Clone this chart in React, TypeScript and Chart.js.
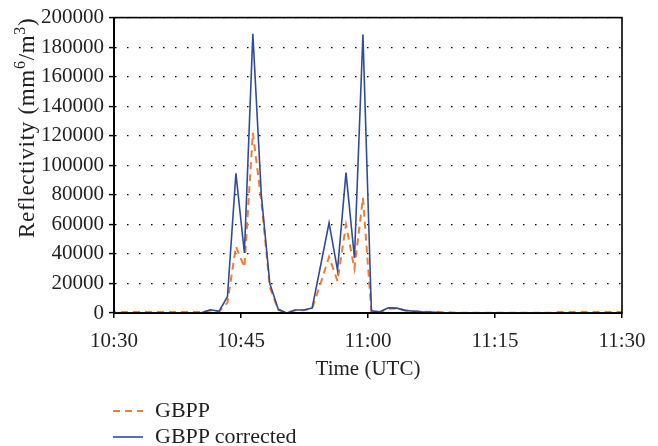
import React, { useEffect, useRef } from "react";
import { Chart, registerables } from "chart.js";

Chart.register(...registerables);

// Sample times, minutes after 10:30 UTC
const times = [
  -0.6, 0.4, 1.4, 2.4, 3.4, 4.4, 5.4, 6.4, 7.4, 8.4, 9.4, 10.4, 11.4, 12.4, 13.4, 14.4,
  15.4, 16.4, 17.4, 18.4, 19.4, 20.4, 21.4, 22.4, 23.4, 24.4, 25.4, 26.4, 27.4, 28.4,
  29.4, 30.4, 31.4, 32.4, 33.4, 34.4, 35.4, 36.4, 37.4, 38.4, 39.4, 40.4, 41.4, 42.4,
  43.4, 44.4, 45.4, 46.4, 47.4, 48.4, 49.4, 50.4, 51.4, 52.4, 53.4, 54.4, 55.4, 56.4,
  57.4, 58.4, 59.4, 60.4,
];

// GBPP (dashed orange)
const gbpp = [
  700, 700, 700, 700, 700, 700, 700, 700, 700, 700, 700, 700, 1800, 900, 7000, 45000,
  31000, 122000, 76000, 17500, 2000, 200, 1800, 1800, 3000, 20000, 38000, 21600, 59700, 30000,
  78000, 1200, 500, 2800, 3000, 1700, 1300, 1000, 700, 700, 500, 100, 100, 100,
  100, 100, 100, 100, 100, 100, 100, 100, 100, 600, 600, 600, 600, 600,
  600, 600, 600, 600,
];

// GBPP corrected (solid blue)
const gbppCorrected = [
  100, 100, 100, 100, 100, 100, 100, 100, 100, 100, 200, 300, 2200, 1100, 11000, 94500,
  40600, 189000, 80000, 20000, 2500, 0, 2000, 2000, 3300, 32000, 61000, 29000, 95000, 37300,
  188500, 1500, 800, 3500, 3300, 1800, 1200, 800, 700, 300, 200, 100, 100, 100,
  100, 100, 100, 100, 100, 100, 100, 100, 100, 100, 100, 100, 100, 100,
  100, 100, 100, 100,
];

const xTickLabels = ["10:30", "10:45", "11:00", "11:15", "11:30"];
const yMax = 200000;
const yStep = 20000;

// y-axis title pieces: [text, superscript?]
const yTitleParts: [string, boolean][] = [
  ["Reflectivity (mm", false],
  ["6", true],
  ["/m", false],
  ["3", true],
  [")", false],
];

const FONT = "'Liberation Serif', 'Times New Roman', serif";
const TEXT = "#231f20";
const ORANGE = "#f47b30";
const BLUE = "#2f4c9c";

const framePlugin = {
  id: "frame",
  afterDraw(chart: any) {
    const { ctx, chartArea } = chart;
    ctx.save();
    ctx.strokeStyle = "#000";
    ctx.lineWidth = 1.6;
    ctx.strokeRect(chartArea.left, chartArea.top, chartArea.right - chartArea.left, chartArea.bottom - chartArea.top);
    ctx.restore();
  },
};

const yTitlePlugin = {
  id: "yTitle",
  afterDraw(chart: any) {
    const { ctx, chartArea } = chart;
    const mainSize = 23;
    const supSize = 16;
    const spacing = 0.7;
    ctx.save();
    try {
      (ctx as any).letterSpacing = spacing + "px";
    } catch (e) {}
    const widths = yTitleParts.map(([t, sup]) => {
      ctx.font = `${sup ? supSize : mainSize}px ${FONT}`;
      return ctx.measureText(t).width;
    });
    const total = widths.reduce((a, b) => a + b, 0);
    const cx = 28;
    ctx.translate(cx, chartArea.top + total);
    ctx.rotate(-Math.PI / 2);
    ctx.fillStyle = TEXT;
    ctx.textAlign = "left";
    ctx.textBaseline = "middle";
    let x = 0;
    yTitleParts.forEach(([t, sup], i) => {
      ctx.font = `${sup ? supSize : mainSize}px ${FONT}`;
      ctx.fillText(t, x, sup ? -7 : 0);
      x += widths[i];
    });
    ctx.restore();
  },
};

export default function App() {
  const ref = useRef<HTMLCanvasElement | null>(null);

  useEffect(() => {
    if (!ref.current) return;
    const chart = new Chart(ref.current, {
      type: "line",
      data: {
        datasets: [
          {
            label: "GBPP corrected",
            data: times.map((t, i) => ({ x: t, y: gbppCorrected[i] })),
            borderColor: BLUE,
            borderWidth: 1.6,
            pointRadius: 0,
            tension: 0,
          },
          {
            label: "GBPP",
            data: times.map((t, i) => ({ x: t, y: gbpp[i] })),
            borderColor: ORANGE,
            borderWidth: 2,
            borderDash: [7, 5],
            pointRadius: 0,
            tension: 0,
          },
        ],
      },
      options: {
        animation: false,
        responsive: false,
        devicePixelRatio: 1,
        layout: { padding: { top: 15, right: 36, bottom: 53, left: 0 } },
        plugins: { legend: { display: false }, tooltip: { enabled: false } },
        scales: {
          x: {
            type: "linear",
            min: 0,
            max: 60,
            afterFit: (s: any) => {
              s.height = 80;
            },
            ticks: {
              stepSize: 15,
              autoSkip: false,
              maxRotation: 0,
              padding: 11,
              color: TEXT,
              font: { family: FONT, size: 21 },
              callback: (v: any) => xTickLabels[Math.round(Number(v) / 15)] ?? "",
            },
            grid: {
              drawOnChartArea: false,
              drawTicks: true,
              tickLength: 5,
              color: "#000",
              lineWidth: 1.5,
            },
            border: { display: true, color: "#000", width: 2 },
            title: {
              display: true,
              text: "Time (UTC)",
              color: TEXT,
              font: { family: FONT, size: 21 },
              padding: { top: 4, bottom: 11 },
            },
          },
          y: {
            min: 0,
            max: yMax,
            afterFit: (s: any) => {
              s.width = 114;
            },
            ticks: {
              stepSize: yStep,
              padding: 5,
              color: TEXT,
              font: { family: FONT, size: 21 },
              callback: (v: any) => String(v),
            },
            grid: {
              color: "#000",
              lineWidth: 1.2,
              drawTicks: true,
              tickLength: 5,
              tickColor: "#000",
              tickWidth: 1.5,
              tickBorderDash: [],
            },
            border: { display: true, color: "#000", width: 2, dash: [1.5, 10.5] },
            title: { display: false },
          },
        },
      },
      plugins: [framePlugin, yTitlePlugin],
    } as any);
    return () => chart.destroy();
  }, []);

  return (
    <div style={{ position: "fixed", left: 0, top: 0, width: 658, height: 446, overflow: "hidden", background: "#fff" }}>
      <canvas ref={ref} width={658} height={446} style={{ position: "absolute", left: 0, top: 0, width: 658, height: 446 }} />
      <svg style={{ position: "absolute", left: 112, top: 404, width: 32, height: 40 }} width={32} height={40}>
        <line x1={1} y1={7} x2={31} y2={7} stroke={ORANGE} strokeWidth={2} strokeDasharray="7 5" />
        <line x1={1} y1={33} x2={31} y2={33} stroke={BLUE} strokeWidth={1.6} />
      </svg>
      <div style={{ position: "absolute", left: 155, top: 398, fontFamily: FONT, fontSize: 22, lineHeight: "24px", color: TEXT, whiteSpace: "nowrap" }}>GBPP</div>
      <div style={{ position: "absolute", left: 155, top: 424, fontFamily: FONT, fontSize: 22, lineHeight: "24px", color: TEXT, whiteSpace: "nowrap" }}>GBPP corrected</div>
    </div>
  );
}
